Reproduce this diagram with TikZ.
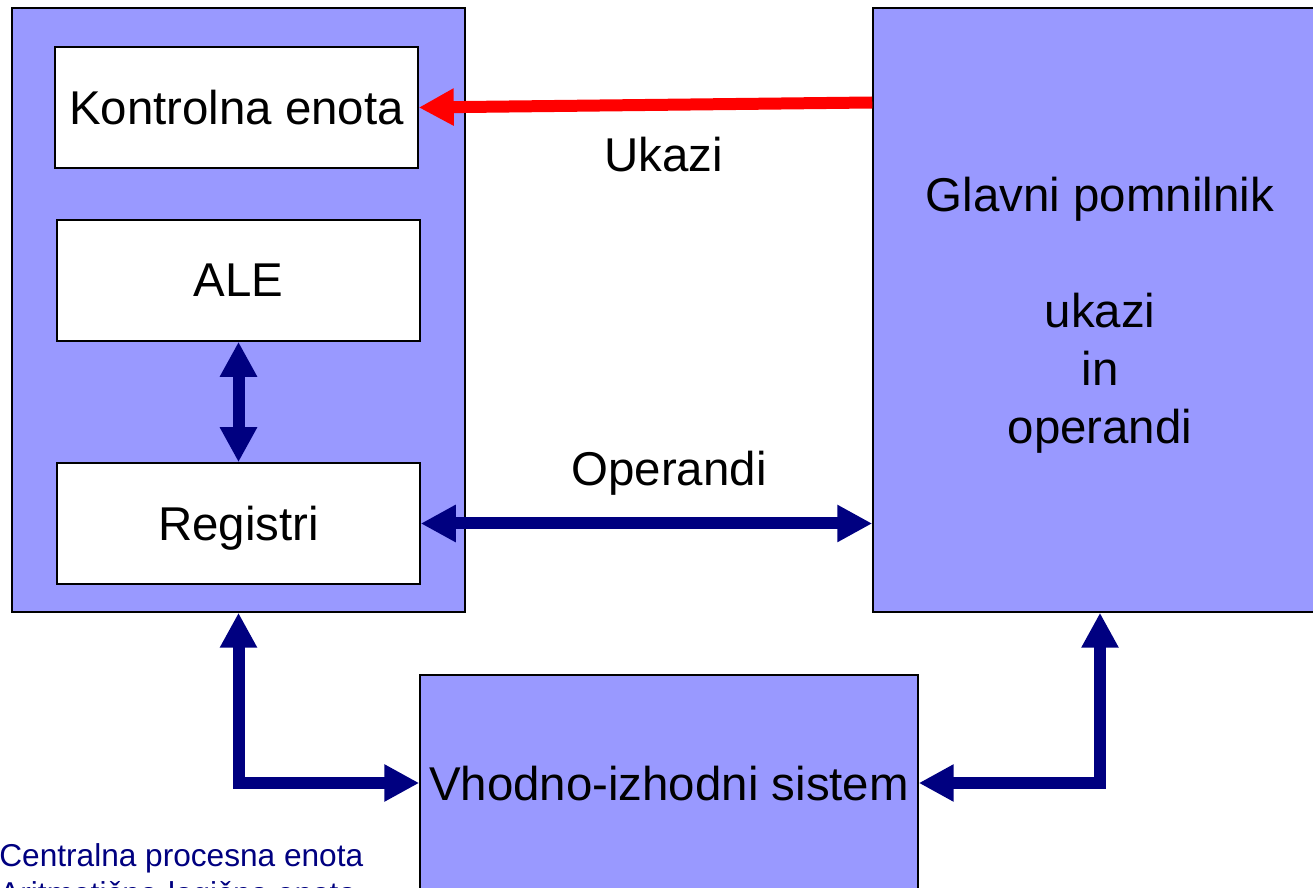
\documentclass[tikz,border=0pt]{standalone}
\usepackage{fontspec}
\setmainfont{Liberation Sans}
\usepackage{tikz}
\usetikzlibrary{arrows.meta,positioning}

\definecolor{blok}{HTML}{9999FF}
\definecolor{temna}{HTML}{000080}

\begin{document}
\begin{tikzpicture}
[x=0.02cm,y=-0.02cm]
\tikzset{
	unit/.style = {rectangle, draw, line width=0.9pt, fill=blok, align=center, inner sep=0, text depth=0pt, font=\fontsize{27}{33}\selectfont},
	part/.style = {rectangle, draw, line width=0.9pt, fill=white, minimum width=7.26cm, minimum height=2.42cm, text depth=0pt, font=\fontsize{27}{33}\selectfont},
	bus/.style = {line width=0.24cm, color=temna, {Triangle[length=0.7cm,width=0.7cm]}-{Triangle[length=0.7cm,width=0.7cm]}},
	ctrl/.style = {line width=0.24cm, color=red, -{Triangle[length=0.7cm,width=0.7cm]}},
	lbl/.style = {text=black, font=\fontsize{27}{33}\selectfont}
}
\useasboundingbox (0,0) rectangle (1313,888);
\clip (0,0) rectangle (1313,888);

\node (cpu) [unit, minimum width=9.06cm, minimum height=12.08cm] at (238.5,310) {};
\node (ke) [part] at (236.5,107.5) {Kontrolna enota};
\node (ale) [part] at (238.5,280.5) {ALE};
\node (reg) [part] at (238.5,523.5) {Registri};
\node (mem) [unit, minimum width=9.08cm, minimum height=12.08cm] at (1100,310) {Glavni pomnilnik\\[33pt]ukazi\\in\\operandi};
\node (io) [unit, minimum width=9.96cm, minimum height=4.32cm] at (669,783) {Vhodno-izhodni sistem};
\node (cpe) [anchor=north west, inner sep=0, align=left, text=temna, font=\fontsize{18}{22}\selectfont] at (-1,843) {Centralna procesna enota\\Aritmetično-logična enota};

\draw [ctrl] ([yshift=0.1cm]ke.east -| mem.west) -- (ke.east) node [lbl, pos=0.46, yshift=-1cm] {Ukazi};
\draw [bus] (reg.east) -- (reg.east -| mem.west) node [lbl, pos=0.55, yshift=1cm] {Operandi};
\draw [bus] (ale.south) -- (reg.north);
\draw [bus] (cpu.south) |- (io.west);
\draw [bus] (mem.south) |- (io.east);

\end{tikzpicture}
\end{document}
